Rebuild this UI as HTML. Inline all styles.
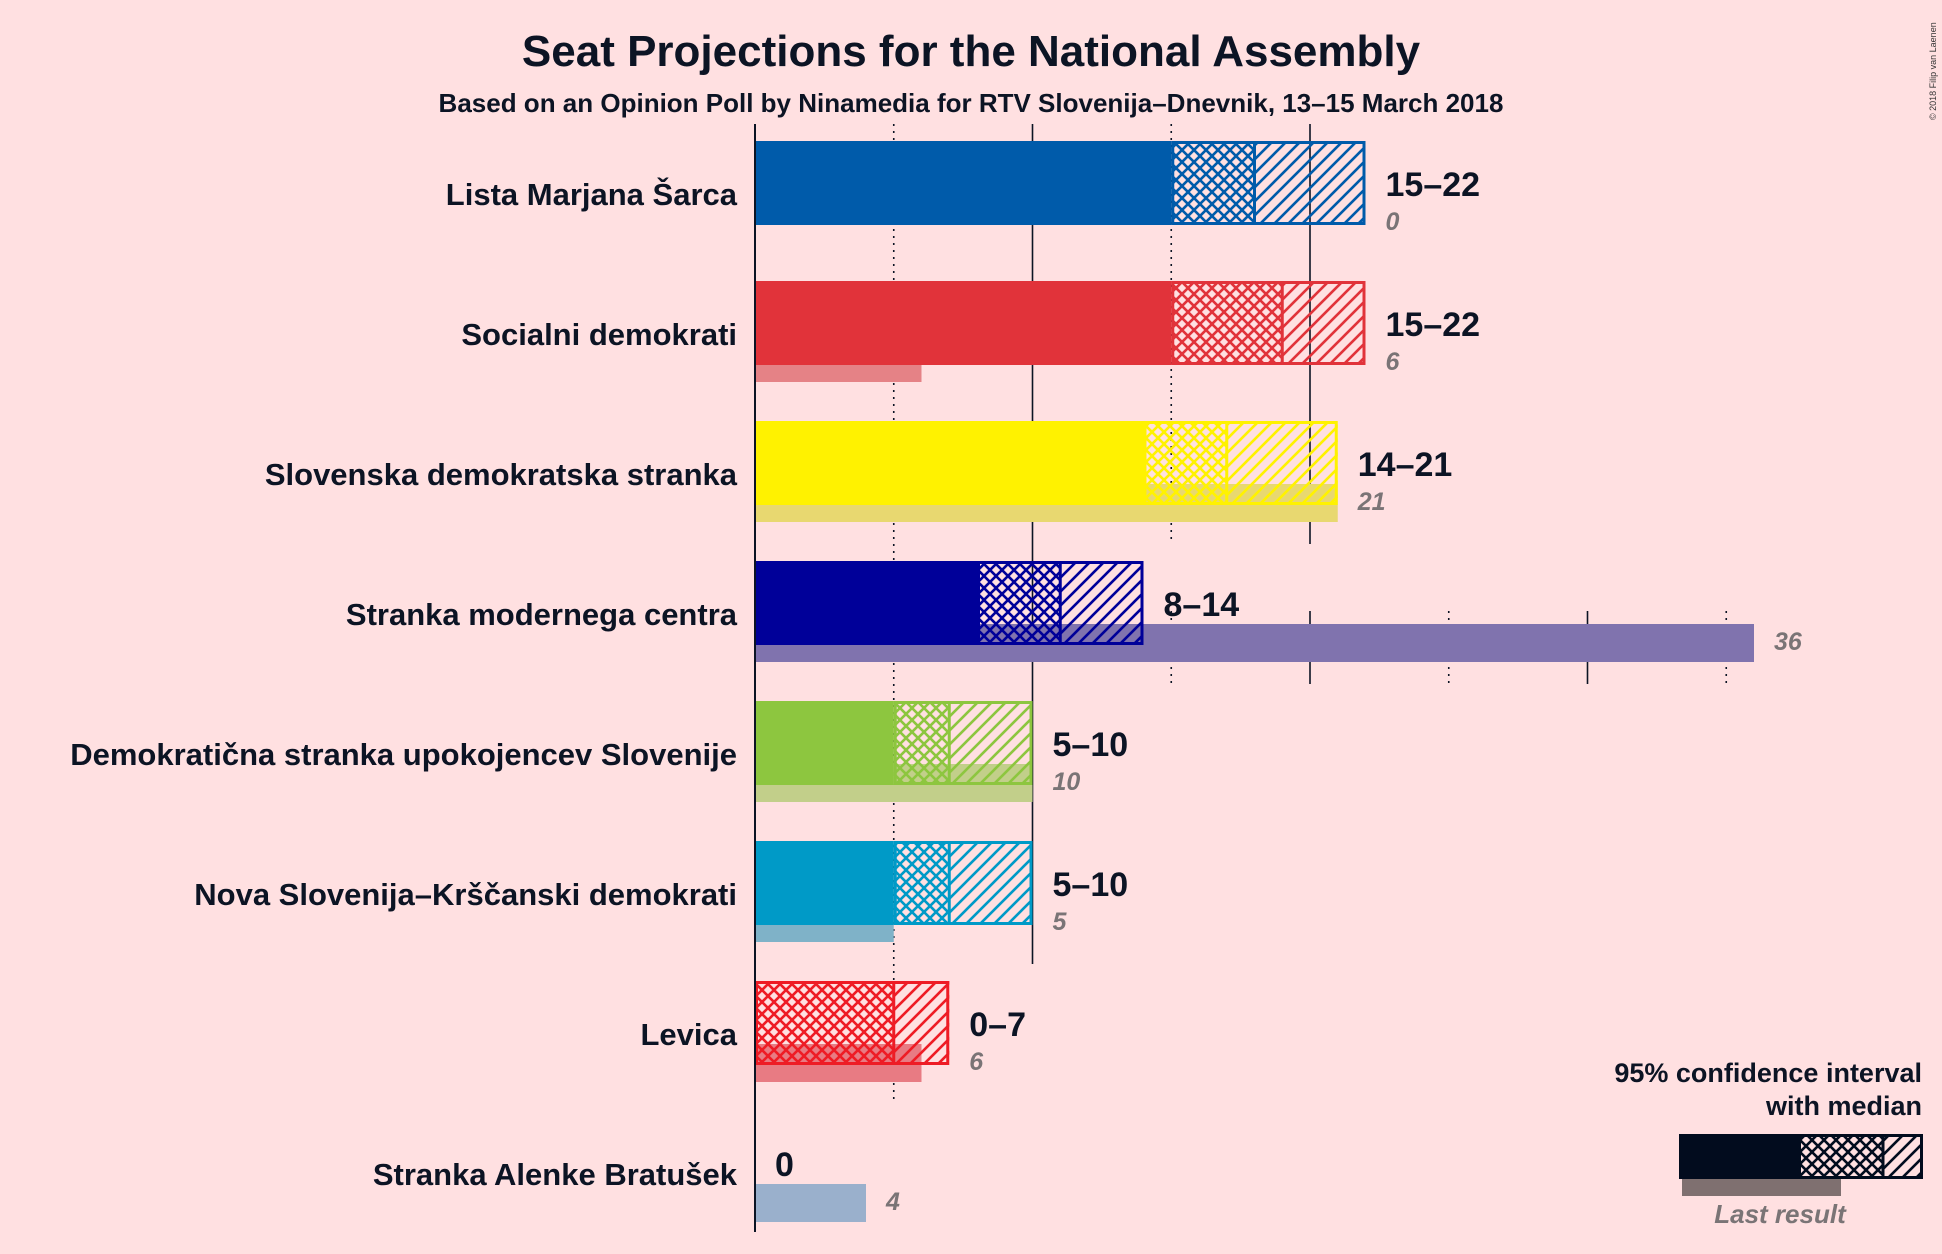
<!DOCTYPE html>
<html><head><meta charset="utf-8"><style>
html,body{margin:0;padding:0;background:#FFE0E1;}
svg{display:block;font-family:"Liberation Sans",sans-serif;}
</style></head><body>
<svg id="chart" width="1942" height="1254" viewBox="0 0 1942 1254" xmlns="http://www.w3.org/2000/svg">
<rect width="1942" height="1254" fill="#FFE0E1"/>
<text x="971" y="66" text-anchor="middle" font-size="44" font-weight="bold" fill="#0C1424">Seat Projections for the National Assembly</text>
<text x="971" y="112" text-anchor="middle" font-size="26" font-weight="bold" fill="#0C1424">Based on an Opinion Poll by Ninamedia for RTV Slovenija–Dnevnik, 13–15 March 2018</text>
<text transform="translate(1936,120) rotate(-90)" font-size="9" fill="#333">© 2018 Filip van Laenen</text>
<g id="plot"></g>
<g id="legend"></g>
</svg>
<script>
const parties = ["Lista Marjana Šarca","Socialni demokrati","Slovenska demokratska stranka","Stranka modernega centra","Demokratična stranka upokojencev Slovenije","Nova Slovenija–Krščanski demokrati","Levica","Stranka Alenke Bratušek"];
const lows = [15,15,14,8,5,5,0,0];
const medians = [18,19,17,11,7,7,5,0];
const highs = [22,22,21,14,10,10,7,0];
const lastResults = [0,6,21,36,10,5,6,4];
const colors = ["#005BAA","#E1333A","#FFF200","#000099","#8DC63F","#009AC7","#EE1C25","#4F7FBF"];
const lastColors = ["#7FA0C8","#E58286","#E8D870","#8073AE","#C2CF8A","#7FB2C8","#E87B83","#9AB0CC"];
const tickValues = [5,10,15,20,25,30,35];

const NS="http://www.w3.org/2000/svg";
const x0=755, perSeat=27.75, rowTop0=141, pitch=140, barH=84;
const xs=v=>x0+v*perSeat;
const yRow=i=>rowTop0+i*pitch;
const svg=document.getElementById('chart');
const plot=document.getElementById('plot');
function mk(tag,attrs,parent){const e=document.createElementNS(NS,tag);for(const k in attrs)e.setAttribute(k,attrs[k]);(parent||plot).appendChild(e);return e;}
const defs=mk('defs',{},svg);
function patterns(id,c){
  const p1=mk('pattern',{id:'x'+id,patternUnits:'userSpaceOnUse',width:12,height:12},defs);
  mk('path',{d:'M0,0L12,12M12,0L0,12M-6,6L6,18M6,-6L18,6M-6,6L6,-6M6,18L18,6',stroke:c,'stroke-width':2.6,fill:'none'},p1);
  const p2=mk('pattern',{id:'d'+id,patternUnits:'userSpaceOnUse',width:14,height:14},defs);
  mk('path',{d:'M0,14L14,0M-7,7L7,-7M7,21L21,7',stroke:c,'stroke-width':2.6,fill:'none'},p2);
}
colors.forEach((c,i)=>patterns(i,c));
patterns('leg','#020C1E');

parties.forEach((name,i)=>{
  const top=yRow(i);
  const g=mk('g',{});
  
  
  tickValues.forEach(t=>{
    let y1=null;
    if(t<=highs[i]) y1=top-17;
    else if(t<=lastResults[i]) y1=top+50;
    if(y1!==null){
      const l=mk('line',{x1:xs(t),x2:xs(t),y1:y1,y2:top+pitch-17,stroke:'#0C1424','stroke-width':1.6,'stroke-dasharray':t%10===0?'':'2,5'},g);
      
      
    }
  });
  if(lastResults[i]>0){
    const r=mk('rect',{x:xs(0),y:top+63,width:xs(lastResults[i])-xs(0),height:38,fill:lastColors[i]},g);
    
    
  }
  if(lows[i]>0){
    const s=mk('rect',{x:xs(0),y:top,width:xs(lows[i])-xs(0),height:barH,fill:colors[i]},g);
    
    
  }
  if(highs[i]>lows[i]){
    const cx=mk('rect',{x:xs(lows[i]),y:top,width:xs(medians[i])-xs(lows[i]),height:barH,fill:'url(#x'+i+')'},g);
    
    
    const dg=mk('rect',{x:xs(medians[i]),y:top,width:xs(highs[i])-xs(medians[i]),height:barH,fill:'url(#d'+i+')'},g);
    
    
    const ml=mk('line',{x1:xs(medians[i]),x2:xs(medians[i]),y1:top,y2:top+barH,stroke:colors[i],'stroke-width':3},g);
    
    
    const bd=mk('rect',{x:xs(lows[i])+1.5,y:top+1.5,width:xs(highs[i])-xs(lows[i])-3,height:barH-3,fill:'none',stroke:colors[i],'stroke-width':3},g);
    
    
  }
  const nt=mk('text',{x:737,y:top+64,'text-anchor':'end','font-size':31,'font-weight':'bold',fill:'#0C1424'},g);
  nt.textContent=name;
  
  
  const rt=mk('text',{x:xs(highs[i])+20,y:top+55,'font-size':34,'font-weight':'bold',fill:'#0C1424'},g);
  rt.textContent=highs[i]===lows[i]?String(lows[i]):lows[i]+'–'+highs[i];
  
  
  const lt=mk('text',{x:xs(Math.max(highs[i],lastResults[i]))+20,y:top+89,'font-size':25,'font-style':'italic','font-weight':'bold',fill:'#7A7476'},g);
  lt.textContent=String(lastResults[i]);
  
  
});
const ax=mk('line',{x1:xs(0),x2:xs(0),y1:124,y2:1232,stroke:'#0C1424','stroke-width':2});



const lg=document.getElementById('legend');
const t1=mk('text',{x:1922,y:1082,'text-anchor':'end','font-size':27,'font-weight':'bold',fill:'#0C1424'},lg);
t1.textContent='95% confidence interval';


const t2=mk('text',{x:1922,y:1115,'text-anchor':'end','font-size':27,'font-weight':'bold',fill:'#0C1424'},lg);
t2.textContent='with median';


mk('rect',{x:1682,y:1179,width:159,height:17,fill:'#7F7070'},lg);
mk('rect',{x:1679,y:1134,width:122,height:45,fill:'#020C1E'},lg);
mk('rect',{x:1801,y:1134,width:82,height:45,fill:'url(#xleg)'},lg);
mk('rect',{x:1883,y:1134,width:40,height:45,fill:'url(#dleg)'},lg);
mk('line',{x1:1883,x2:1883,y1:1134,y2:1179,stroke:'#020C1E','stroke-width':3},lg);
mk('rect',{x:1680.5,y:1135.5,width:241,height:42,fill:'none',stroke:'#020C1E','stroke-width':3},lg);
const t3=mk('text',{x:1780,y:1223,'text-anchor':'middle','font-size':26,'font-style':'italic','font-weight':'bold',fill:'#7A7476'},lg);
t3.textContent='Last result';


</script>
</body></html>
